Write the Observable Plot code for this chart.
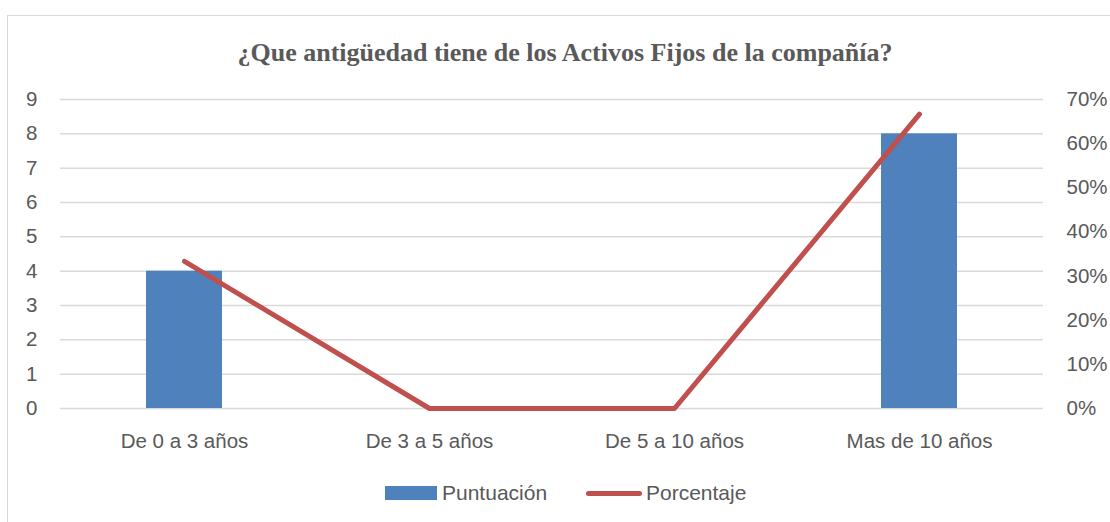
<!DOCTYPE html>
<html><head><meta charset="utf-8">
<script src="https://cdn.jsdelivr.net/npm/d3@7"></script>
<script src="https://cdn.jsdelivr.net/npm/@observablehq/plot@0.6"></script>
<style>
body{margin:0;width:1110px;height:522px;overflow:hidden;position:relative;background:#fff;font-family:"Liberation Sans",Arial,sans-serif;color:#595959}
#frame{position:absolute;left:7px;top:15px;width:1130px;height:540px;border:1.5px solid #d9d9d9;box-sizing:border-box}
#title{position:absolute;left:0;top:40px;width:1130px;text-align:center;font-family:"Liberation Serif",serif;font-weight:bold;font-size:26px;line-height:26px;color:#595959}
#chart{position:absolute;left:0;top:80px}
.lg{position:absolute;font-size:21px;line-height:21px;color:#595959;white-space:nowrap}
.sw1{position:absolute;left:385px;top:486px;width:52px;height:14px;background:#4F81BD}
.sw2{position:absolute;left:586px;top:490.5px;width:56px;height:5px;border-radius:2.5px;background:#C0504D}
</style></head>
<body>
<div id="frame"></div>
<div id="title">¿Que antigüedad tiene de los Activos Fijos de la compañía?</div>
<div id="chart"></div>
<div class="sw1"></div><div class="lg" style="left:442px;top:482px">Puntuación</div>
<div class="sw2"></div><div class="lg" style="left:646px;top:482px">Porcentaje</div>
<script>
const categories = ["De 0 a 3 años", "De 3 a 5 años", "De 5 a 10 años", "Mas de 10 años"];
const puntuacion = [4, 0, 0, 8];
const porcentaje = [33.33, 0, 0, 66.67];
const countTicks = [0, 1, 2, 3, 4, 5, 6, 7, 8, 9];
const pctTicks = [0, 10, 20, 30, 40, 50, 60, 70];

const yMax = 9, pMax = 70;
const toY = p => p / pMax * yMax;
const table = categories.map((c, i) => ({cat: c, punt: puntuacion[i], pct: porcentaje[i]}));

const chart = Plot.plot({
  width: 1110, height: 378,
  marginLeft: 60, marginRight: 67, marginTop: 19, marginBottom: 50,
  style: {fontFamily: "'Liberation Sans', Arial, sans-serif", fontSize: "20.5px", color: "#595959", background: "transparent"},
  x: {type: "band", domain: categories, paddingInner: 0.69, paddingOuter: 0.345, label: null},
  y: {domain: [0, yMax], label: null},
  marks: [
    Plot.gridY(countTicks, {stroke: "#d9d9d9", strokeOpacity: 1, strokeWidth: 1.5}),
    Plot.barY(table, {x: "cat", y: "punt", fill: "#4F81BD"}),
    Plot.lineY(table, {x: "cat", y: d => toY(d.pct), stroke: "#C0504D", strokeWidth: 5, strokeLinecap: "round", strokeLinejoin: "round"}),
    Plot.axisX({tickSize: 0, tickPadding: 25, label: null}),
    Plot.axisY({anchor: "left", ticks: countTicks, tickSize: 0, tickPadding: 23, label: null}),
    Plot.axisY({anchor: "right", ticks: pctTicks.map(toY), tickFormat: d => Math.round(d / yMax * pMax) + "%", tickSize: 0, tickPadding: 23, label: null})
  ]
});
document.getElementById("chart").appendChild(chart);
</script>
</body></html>
